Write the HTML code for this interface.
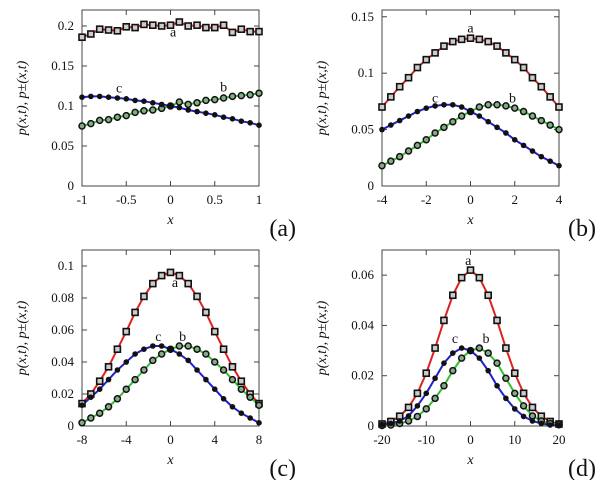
<!DOCTYPE html>
<html><head><meta charset="utf-8"><style>
body{margin:0;background:#fff;width:603px;height:480px;overflow:hidden}
svg{display:block}
text{font-family:"Liberation Serif",serif;fill:#111}
</style></head><body>
<svg id="c" width="603" height="480"></svg>
<script>
const xA=[-1,-0.9,-0.8,-0.7,-0.6,-0.5,-0.4,-0.3,-0.2,-0.1,0,0.1,0.2,0.3,0.4,0.5,0.6,0.7,0.8,0.9,1];
const aA=[0.186,0.19,0.196,0.195,0.194,0.199,0.198,0.202,0.201,0.200,0.201,0.205,0.200,0.201,0.198,0.198,0.201,0.192,0.196,0.193,0.193];
const bA=[0.075,0.078,0.082,0.083,0.086,0.088,0.092,0.094,0.095,0.097,0.100,0.105,0.102,0.104,0.107,0.108,0.110,0.112,0.113,0.114,0.116];
const cA=[0.111,0.112,0.112,0.111,0.110,0.109,0.107,0.106,0.104,0.102,0.100,0.098,0.095,0.093,0.091,0.089,0.086,0.084,0.081,0.079,0.076];
const xB=[-4,-3.6,-3.2,-2.8,-2.4,-2,-1.6,-1.2,-0.8,-0.4,0,0.4,0.8,1.2,1.6,2,2.4,2.8,3.2,3.6,4];
const aB=[0.070,0.079,0.088,0.096,0.105,0.112,0.118,0.124,0.128,0.130,0.131,0.130,0.128,0.124,0.118,0.112,0.105,0.096,0.088,0.079,0.070];
const cB=[0.050,0.054,0.058,0.062,0.066,0.069,0.071,0.072,0.072,0.070,0.066,0.062,0.057,0.052,0.047,0.041,0.036,0.031,0.026,0.022,0.018];
const bB=[0.018,0.022,0.026,0.031,0.036,0.041,0.047,0.052,0.057,0.062,0.066,0.070,0.072,0.072,0.071,0.069,0.066,0.062,0.058,0.054,0.050];
const xC=[-8,-7.2,-6.4,-5.6,-4.8,-4,-3.2,-2.4,-1.6,-0.8,0,0.8,1.6,2.4,3.2,4,4.8,5.6,6.4,7.2,8];
const aC=[0.014,0.020,0.028,0.037,0.048,0.059,0.071,0.081,0.089,0.094,0.096,0.094,0.089,0.081,0.071,0.059,0.048,0.037,0.028,0.020,0.014];
const cC=[0.013,0.018,0.023,0.029,0.035,0.040,0.045,0.048,0.050,0.050,0.048,0.045,0.041,0.035,0.029,0.023,0.017,0.012,0.008,0.005,0.002];
const bC=[0.002,0.005,0.008,0.012,0.017,0.023,0.029,0.035,0.041,0.045,0.048,0.050,0.050,0.048,0.045,0.040,0.035,0.029,0.023,0.018,0.013];
const xD=[-20,-18,-16,-14,-12,-10,-8,-6,-4,-2,0,2,4,6,8,10,12,14,16,18,20];
const aD=[0.0008,0.0018,0.0039,0.0074,0.013,0.021,0.031,0.042,0.052,0.059,0.062,0.059,0.052,0.042,0.031,0.021,0.013,0.0074,0.0039,0.0018,0.0008];
const cD=[0.0005,0.001,0.002,0.004,0.008,0.013,0.019,0.025,0.029,0.031,0.030,0.027,0.022,0.016,0.011,0.0068,0.0038,0.002,0.001,0.0004,0.0002];
const bD=[0.0002,0.0004,0.001,0.002,0.0038,0.0068,0.011,0.016,0.022,0.027,0.030,0.031,0.029,0.025,0.019,0.013,0.008,0.004,0.002,0.001,0.0005];
const xTA=[-1,-0.5,0,0.5,1], yTA=[0,0.05,0.1,0.15,0.2];
const xTB=[-4,-2,0,2,4], yTB=[0,0.05,0.1,0.15];
const xTC=[-8,-4,0,4,8], yTC=[0,0.02,0.04,0.06,0.08,0.1];
const xTD=[-20,-10,0,10,20], yTD=[0,0.02,0.04,0.06];

const NS="http://www.w3.org/2000/svg", svg=document.getElementById('c');
function mk(p,tag,at){const e=document.createElementNS(NS,tag);for(const k in at)e.setAttribute(k,at[k]);p.appendChild(e);return e;}
const panels=[
 {id:'a',L:82,R:259,T:10,B:186,x0:-1,x1:1,y0:0,y1:0.22,xs:xA,a:aA,b:bA,c:cA,xt:xTA,yt:yTA,la:[0.03,0.187],lb:[0.6,0.118],lc:[-0.58,0.117]},
 {id:'b',L:382,R:559,T:10,B:186,x0:-4,x1:4,y0:0,y1:0.156,xs:xB,a:aB,b:bB,c:cB,xt:xTB,yt:yTB,la:[0,0.136],lb:[1.9,0.074],lc:[-1.6,0.074]},
 {id:'c',L:82,R:259,T:250,B:426,x0:-8,x1:8,y0:0,y1:0.11,xs:xC,a:aC,b:bC,c:cC,xt:xTC,yt:yTC,la:[0.4,0.087],lb:[1.1,0.053],lc:[-1.1,0.053]},
 {id:'d',L:382,R:559,T:250,B:426,x0:-20,x1:20,y0:0,y1:0.07,xs:xD,a:aD,b:bD,c:cD,xt:xTD,yt:yTD,la:[-0.5,0.064],lb:[3.5,0.033],lc:[-3.5,0.033]}
];
panels.forEach(P=>{
 const g=mk(svg,'g',{});
 
 
 const sx=v=>P.L+(v-P.x0)/(P.x1-P.x0)*(P.R-P.L);
 const sy=v=>P.B-(v-P.y0)/(P.y1-P.y0)*(P.B-P.T);
 const fr=mk(g,'rect',{x:P.L,y:P.T,width:P.R-P.L,height:P.B-P.T,fill:'none',stroke:'#444','stroke-width':1});
 
 
 P.xt.forEach(v=>{const X=sx(v);
  mk(g,'line',{x1:X,y1:P.B,x2:X,y2:P.B-5,stroke:'#444'});mk(g,'line',{x1:X,y1:P.T,x2:X,y2:P.T+5,stroke:'#444'});
  const t=mk(g,'text',{x:X,y:P.B+18,'text-anchor':'middle','font-size':13});t.textContent=v;
  
  });
 P.yt.forEach(v=>{const Y=sy(v);
  mk(g,'line',{x1:P.L,y1:Y,x2:P.L+5,y2:Y,stroke:'#444'});mk(g,'line',{x1:P.R,y1:Y,x2:P.R-5,y2:Y,stroke:'#444'});
  const t=mk(g,'text',{x:P.L-8,y:Y+4,'text-anchor':'end','font-size':13});t.textContent=v;
  
  });
 [['a','#e02020'],['b','#30c030'],['c','#2020d0']].forEach(([k,col])=>{
  const pl=mk(g,'polyline',{points:P.xs.map((x,i)=>sx(x)+','+sy(P[k][i])).join(' '),fill:'none',stroke:col,'stroke-width':2});
  
  
 });
 P.xs.forEach((x,i)=>{
  const X=sx(x);
  const s=mk(g,'rect',{x:X-3,y:sy(P.a[i])-3,width:6,height:6,fill:'#ccc',stroke:'#111','stroke-width':1.6});
  
  
  const b=mk(g,'circle',{cx:X,cy:sy(P.b[i]),r:3,fill:'#8a8',stroke:'#111','stroke-width':1.5});
  
  
  const c=mk(g,'circle',{cx:X,cy:sy(P.c[i]),r:2.8,fill:'#111'});
  
  
 });
 [['a',P.la],['b',P.lb],['c',P.lc]].forEach(([k,p])=>{
  const t=mk(g,'text',{x:sx(p[0]),y:sy(p[1]),'text-anchor':'middle','font-size':14});t.textContent=k;
  
  
 });
 const xl=mk(g,'text',{x:(P.L+P.R)/2,y:P.B+38,'text-anchor':'middle','font-size':14,'font-style':'italic','font-family':'Liberation Sans, sans-serif'});xl.textContent='x';
 
 
 const cy=(P.T+P.B)/2, cx=P.L-56;
 const yl=mk(g,'text',{x:cx,y:cy,'text-anchor':'middle','font-size':14,'font-style':'italic','font-family':'Liberation Sans, sans-serif',transform:`rotate(-90 ${cx} ${cy})`});
 yl.textContent='p(x,t),   p±(x,t)';
 
 
 const pl=mk(g,'text',{x:P.R+37,y:P.B+50,'text-anchor':'end','font-size':24});pl.textContent='('+P.id+')';
 
 
});
</script>
</body></html>
